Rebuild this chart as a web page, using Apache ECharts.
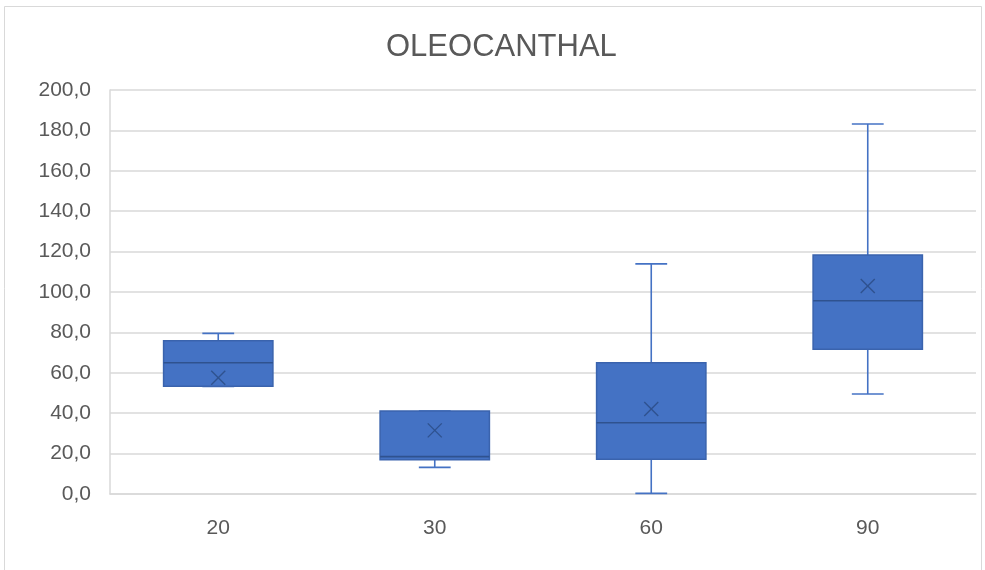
<!DOCTYPE html>
<html>
<head>
<meta charset="utf-8">
<script src="https://cdn.jsdelivr.net/npm/echarts@6/dist/echarts.min.js"></script>
<style>
html,body{margin:0;padding:0;background:#fff;}
#chart{width:985px;height:570px;}
</style>
</head>
<body>
<div id="chart"></div>
<script>
const categories = ['20', '30', '60', '90'];
const minVals    = [53.2, 13.2, 0.3, 49.5];
const q1Vals     = [53.4, 17.0, 17.2, 71.6];
const medianVals = [65.0, 18.5, 35.3, 95.7];
const q3Vals     = [75.9, 41.1, 65.0, 118.3];
const maxVals    = [79.5, 41.1, 113.9, 183.2];
const meanVals   = [57.6, 31.5, 42.1, 103.0];
const yTicks = { min: 0, max: 200, interval: 20 };

const seriesData = categories.map((c, i) => [i, minVals[i], q1Vals[i], medianVals[i], q3Vals[i], maxVals[i], meanVals[i]]);

const fillColor = '#4472C4';
const edgeColor = '#3A63AD';
const darkColor = '#2F528F';
const textColor = '#595959';
const gridColor = '#D9D9D9';

const chart = echarts.init(document.getElementById('chart'), null, { renderer: 'canvas' });
chart.setOption({
  animation: false,
  backgroundColor: '#fff',
  title: {
    text: 'OLEOCANTHAL',
    left: 381,
    top: 27,
    textStyle: { fontFamily: 'Liberation Sans', fontSize: 31, fontWeight: 'normal', color: textColor }
  },
  graphic: [{
    type: 'rect', silent: true, z: -1,
    shape: { x: 4.5, y: 6.5, width: 977, height: 600 },
    style: { fill: 'none', stroke: gridColor, lineWidth: 1 }
  }],
  grid: { left: 110, right: 9, top: 90, bottom: 76, containLabel: false },
  xAxis: {
    type: 'category',
    data: categories,
    boundaryGap: true,
    axisTick: { show: false },
    axisLine: { show: true, lineStyle: { color: gridColor, width: 1.5 } },
    axisLabel: { color: textColor, fontFamily: 'Liberation Sans', fontSize: 21, margin: 24 },
    splitLine: { show: false }
  },
  yAxis: {
    type: 'value',
    min: yTicks.min, max: yTicks.max, interval: yTicks.interval,
    axisLine: { show: true, lineStyle: { color: gridColor, width: 1.5 } },
    axisTick: { show: false },
    axisLabel: {
      color: textColor, fontFamily: 'Liberation Sans', fontSize: 21, margin: 19,
      formatter: v => v.toFixed(1).replace('.', ',')
    },
    splitLine: { show: true, lineStyle: { color: gridColor, width: 1.5 } }
  },
  series: [{
    type: 'custom',
    data: seriesData,
    encode: { x: 0, y: [1, 2, 3, 4, 5, 6] },
    renderItem: function (params, api) {
      const xi = api.value(0);
      const pt = v => api.coord([xi, v]);
      const band = api.size([1, 0])[0];
      const bw = band * 0.505;
      const cw = band * 0.147;
      const cx = pt(0)[0];
      const yMin = pt(api.value(1))[1];
      const yQ1 = pt(api.value(2))[1];
      const yMed = pt(api.value(3))[1];
      const yQ3 = pt(api.value(4))[1];
      const yMax = pt(api.value(5))[1];
      const yMean = pt(api.value(6))[1];
      const ws = { stroke: fillColor, lineWidth: 1.6 };
      const xs = 7;
      return {
        type: 'group',
        children: [
          { type: 'line', shape: { x1: cx, y1: yQ3, x2: cx, y2: yMax }, style: ws },
          { type: 'line', shape: { x1: cx - cw / 2, y1: yMax, x2: cx + cw / 2, y2: yMax }, style: ws },
          { type: 'line', shape: { x1: cx, y1: yQ1, x2: cx, y2: yMin }, style: ws },
          { type: 'line', shape: { x1: cx - cw / 2, y1: yMin, x2: cx + cw / 2, y2: yMin }, style: ws },
          { type: 'rect', shape: { x: cx - bw / 2, y: yQ3, width: bw, height: yQ1 - yQ3 },
            style: { fill: fillColor, stroke: edgeColor, lineWidth: 1.5 } },
          { type: 'line', shape: { x1: cx - bw / 2, y1: yMed, x2: cx + bw / 2, y2: yMed },
            style: { stroke: darkColor, lineWidth: 1.6 } },
          { type: 'line', shape: { x1: cx - xs, y1: yMean - xs, x2: cx + xs, y2: yMean + xs },
            style: { stroke: darkColor, lineWidth: 1.4 } },
          { type: 'line', shape: { x1: cx - xs, y1: yMean + xs, x2: cx + xs, y2: yMean - xs },
            style: { stroke: darkColor, lineWidth: 1.4 } }
        ]
      };
    }
  }]
});
</script>
</body>
</html>
